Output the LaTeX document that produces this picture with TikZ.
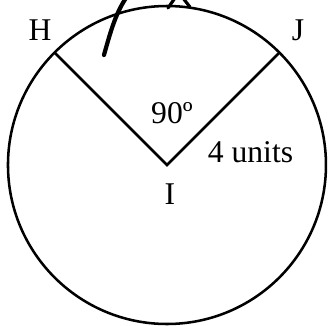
\documentclass[tikz,border=0pt]{standalone}
\usepackage{fontspec}
\setmainfont{Liberation Serif}
\usepackage{tikz}
\usetikzlibrary{positioning,calc}

\begin{document}
\begin{tikzpicture}[rim/.style={line width=1.2pt},
  lbl/.style={font=\fontsize{15}{18}\selectfont, inner sep=0pt},
  pen/.style={line width=2pt, line cap=round}]
\useasboundingbox (-2.783,-2.683) rectangle (2.717,2.75);
% circle with centre I, radius 4 units
\coordinate (I) at (0,0);
\coordinate (H) at (135:2.65);
\coordinate (J) at (45:2.65);
\draw[rim] (I) circle (2.65);
\draw[rim] (H) -- (I) -- (J);
% ---------- labels ----------
\node[lbl] (hlab) at (-2.117,2.25) {H};
\node[lbl] (jlab) at (2.183,2.25) {J};
\node[lbl, anchor=base] (ilab) at (0.05,-0.65) {I};
\node[lbl, anchor=base] (angle) at (0.083,0.7) {90º};
\node[lbl, anchor=base] (radius) at (1.392,0.05) {4 units};
% ---------- hand-drawn marks at the top ----------
\draw[pen] (-1.05,1.833) .. controls (-0.933,2.25) and (-0.85,2.55) .. (-0.65,2.833);
\draw[pen, line width=1.5pt] (0.017,2.617) -- (0.133,2.783);
\draw[pen, line width=1.5pt] (0.267,2.783) -- (0.383,2.633);
\end{tikzpicture}
\end{document}
